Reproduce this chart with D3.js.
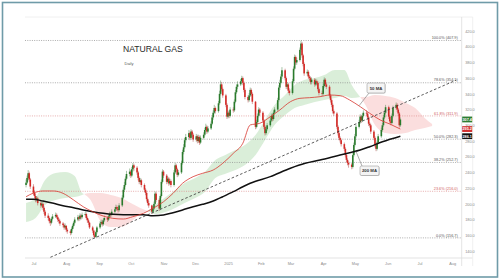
<!DOCTYPE html>
<html><head><meta charset="utf-8">
<script src="https://cdn.jsdelivr.net/npm/d3@7"></script>
<style>html,body{margin:0;padding:0;background:#fff;}svg{display:block;}</style>
</head><body><svg id="c" width="500" height="280"></svg>
<script>
// ---------- DATA ----------
const firstSession = "2024-06-24"; // daily sessions (Mon-Fri) starting here
const opens = [
224,227,233,239,231, 222,214,210,205,207, 201,198,200,195,190, 185,182,178,176,181, 184,186,183,180,178,
175,173,170,172,167, 165,163,168,172,176, 180,183,181,185,183, 186,187,182,179,176, 170,166,160,158,164,
170,175,177,174,179, 182,180,184,187,186, 190,193,196,194,192, 198,208,218,224,232, 238,241,236,244,249,
246,240,233,228,230, 224,218,214,206,201, 198,190,194,200,213, 205,194,210,228,241, 236,228,232,226,229,
224,240,249,244,237, 240,252,266,272,281, 285,290,284,292,288, 282,286,280,285,278, 284,288,294,298,292,
296,302,310,316,322, 318,328,340,352,346, 338,326,311,316,312, 320,319,330,342,349, 352,356,360,354,345,
336,332,338,345,340, 330,298,304,312,320, 316,306,298,290,295, 300,306,312,308,316, 320,332,348,354,362,
370,360,349,352,344, 341,356,372,387,380, 383,396,404,389,378, 366,368,362,360,355, 358,352,356,354,346,
341,340,350,358,352, 349,338,332,326,318, 315,298,290,284,281, 276,270,262,256,252, 250,247,262,275,286,
298,304,311,306,312, 316,315,310,302,300, 292,284,275,270,278, 286,294,300,310,316, 323,311,305,303,312,
322,326,320,315,300];
const highs = [
231,236,243,241,233, 225,217,213,210,209, 204,203,202,197,192, 188,184,180,183,187, 189,188,185,182,180,
177,175,175,173,169, 167,170,174,178,183, 186,185,188,187,189, 190,189,184,181,177, 172,167,162,166,172,
178,180,179,181,185, 184,186,190,189,193, 196,199,198,196,201, 211,221,228,235,242, 245,243,247,252,251,
248,242,235,233,232, 226,220,216,208,204, 199,197,203,216,215, 207,212,231,244,243, 238,235,234,232,231,
243,252,251,246,243, 255,269,276,284,289, 294,292,295,294,290, 289,288,288,287,287, 291,297,302,300,299,
305,313,319,326,324, 331,344,357,355,348, 340,328,319,318,323, 323,333,345,352,356, 359,363,362,356,347,
338,341,348,347,342, 331,307,315,323,322, 318,308,300,298,303, 309,315,314,319,323, 335,351,358,365,374,
372,362,355,354,347, 359,375,390,389,386, 399,407.9,406,391,380, 371,370,364,362,361, 360,359,358,356,348,
344,353,361,360,354, 351,340,334,328,320, 317,300,292,286,283, 278,272,264,258,254, 252,265,278,289,301,
307,314,313,315,319, 319,317,312,304,302, 294,286,277,281,289, 297,303,313,319,326, 325,313,307,315,325,
329,328,322,317,310];
const lows = [
221,225,230,228,219, 211,207,202,203,198, 195,196,192,187,182, 179,175,172,174,179, 182,181,177,175,172,
170,167,168,164,162, 160,161,166,170,174, 178,178,179,180,181, 184,180,176,173,168, 163,157,156.7,157,162,
168,173,171,172,177, 177,178,182,183,184, 188,191,191,189,190, 196,206,215,222,230, 235,233,234,241,242,
237,230,225,226,221, 215,211,203,198,195, 187,188,192,198,202, 191,192,208,226,233, 225,226,223,224,221,
222,238,241,234,235, 238,250,263,270,278, 282,281,282,285,279, 279,277,278,275,276, 282,286,291,289,290,
294,300,307,314,315, 316,326,338,343,335, 323,308,309,309,310, 316,317,328,340,346, 350,353,351,342,333,
329,330,336,337,327, 295,296,302,310,313, 303,295,287,288,293, 298,304,305,306,314, 318,330,345,352,359,
357,346,346,341,338, 339,354,370,377,377, 381,393,386,375,363, 363,359,357,352,352, 349,350,351,343,338,
337,338,348,349,346, 335,329,323,315,312, 295,287,281,278,273, 267,259,253,249,246, 244,245,260,273,284,
296,302,303,304,310, 312,307,299,297,289, 281,272,267,268,276, 284,292,298,308,314, 308,302,300,301,310,
320,317,312,297,298];
const closes = [
227,233,239,231,222, 214,210,205,207,201, 198,200,195,190,185, 182,178,176,181,184, 186,183,180,178,175,
173,170,172,167,165, 163,168,172,176,180, 183,181,185,183,186, 187,182,179,176,170, 166,160,158,164,170,
175,177,174,179,182, 180,184,187,186,190, 193,196,194,192,198, 208,218,224,232,238, 241,236,244,249,246,
240,233,228,230,224, 218,214,206,201,198, 190,194,200,213,205, 194,210,228,241,236, 228,232,226,229,224,
240,249,244,237,240, 252,266,272,281,285, 290,284,292,288,282, 286,280,285,278,284, 288,294,298,292,296,
302,310,316,322,318, 328,340,352,346,338, 326,311,316,312,320, 319,330,342,349,352, 356,360,354,345,336,
332,338,345,340,330, 298,304,312,320,316, 306,298,290,295,300, 306,312,308,316,320, 332,348,354,362,370,
360,349,352,344,341, 356,372,387,380,383, 396,404,389,378,366, 368,362,360,355,358, 352,356,354,346,341,
340,350,358,352,349, 338,332,326,318,315, 298,290,284,281,276, 270,262,256,252,250, 247,262,275,286,298,
304,311,306,312,316, 315,310,302,300,292, 284,275,270,278,286, 294,300,310,316,323, 311,305,303,312,322,
326,320,315,300,307.4];

const ma50Dates = ["2024-06-24","2024-07-01","2024-07-10","2024-07-20","2024-07-29","2024-08-08","2024-08-17","2024-08-26","2024-09-05","2024-09-14","2024-09-24","2024-10-03","2024-10-13","2024-10-22","2024-11-01","2024-11-10","2024-11-19","2024-11-29","2024-12-08","2024-12-18","2024-12-27","2025-01-06","2025-01-15","2025-01-22","2025-01-31","2025-02-10","2025-02-19","2025-03-01","2025-03-10","2025-03-19","2025-03-29","2025-04-07","2025-04-17","2025-04-26","2025-05-06","2025-05-15","2025-05-25","2025-06-03","2025-06-13"];
const ma50Values = [209.1,213.8,216.4,216.4,213.4,204.9,196.4,190.0,184.5,181.6,180.7,183.7,188.0,194.3,202.7,213.4,226.2,234.6,238.9,243.1,251.6,264.3,277.1,300.4,302.5,310.9,319.5,330.0,334.3,335.1,336.4,338.5,337.7,332.2,323.7,315.3,306.7,301.6,295.2];

const ma200Dates = ["2024-06-24","2024-07-01","2024-07-10","2024-07-20","2024-07-29","2024-08-08","2024-08-17","2024-08-26","2024-09-05","2024-09-14","2024-09-24","2024-10-03","2024-10-13","2024-10-22","2024-11-01","2024-11-10","2024-11-19","2024-11-29","2024-12-08","2024-12-18","2024-12-27","2025-01-06","2025-01-15","2025-01-22","2025-02-10","2025-03-01","2025-03-15","2025-03-29","2025-04-17","2025-04-26","2025-05-06","2025-05-15","2025-05-27","2025-06-13"];
const ma200Values = [205.8,205.8,203.6,200.7,197.6,195.1,192.2,190.0,188.0,186.7,186.2,186.2,186.2,184.9,185.8,188.7,192.2,196.4,199.4,203.6,209.1,215.5,221.8,226.2,234.6,245.3,251.6,255.8,262.2,265.1,268.5,272.7,279.0,286.1];

const cloudDates = ["2024-06-24","2024-07-03","2024-07-12","2024-07-22","2024-07-31","2024-08-09","2024-08-16","2024-08-18","2024-08-24","2024-09-03","2024-09-12","2024-09-22","2024-10-01","2024-10-10","2024-10-17","2024-10-24","2024-11-03","2024-11-12","2024-11-21","2024-12-01","2024-12-10","2024-12-20","2024-12-29","2025-01-08","2025-01-17","2025-01-27","2025-02-05","2025-02-14","2025-02-24","2025-03-05","2025-03-14","2025-03-24","2025-04-02","2025-04-12","2025-04-21","2025-04-28","2025-05-06","2025-05-11","2025-05-20","2025-05-30","2025-06-08","2025-06-18","2025-06-27","2025-07-06","2025-07-13"];
const spanA = [201.1,207.5,230.4,239.3,240.5,235.5,213.8,212.5,204.9,176.9,170.6,170.6,176.9,187.1,190.9,198.5,208.7,217.6,226.5,232.9,240.5,255.8,262.0,268.5,274.9,287.6,306.7,325.8,338.5,351.3,357.6,360.2,364.0,370.4,370.4,351.3,336.0,325.8,300.4,290.2,288.9,290.2,294.0,296.5,299.1];
const spanB = [176.9,182.0,198.5,204.9,207.5,208.7,211.3,212.5,213.8,213.8,211.3,207.5,201.1,194.7,190.9,187.1,189.6,194.7,201.1,207.5,215.1,232.9,238.0,243.1,249.5,262.2,281.3,300.4,313.1,322.0,325.8,329.6,332.2,334.7,337.3,334.7,336.0,336.0,338.5,337.3,334.7,328.4,322.0,309.3,301.6];

const trendDates = ["2024-07-17","2025-08-05"];
const trendValues = [132.0,357.6];

const fibLabels = ["100.0%","78.6%","61.8%","50.0%","38.2%","23.6%","0.0%"];
const fibValues = [407.9,354.1,311.9,282.3,252.7,216.0,156.7];
const fibAccent = [false,false,true,false,false,true,false];

const yTicks = [140,160,180,200,220,240,260,280,300,320,340,360,380,400,420];
const monthDates = ["2024-07-01","2024-08-01","2024-09-01","2024-10-01","2024-11-01","2024-12-01","2025-01-01","2025-02-01","2025-03-01","2025-04-01","2025-05-01","2025-06-01","2025-07-01","2025-08-01"];
const monthLabels = ["Jul","Aug","Sep","Oct","Nov","Dec","2025","Feb","Mar","Apr","May","Jun","Jul","Aug"];

const lastClose = 307.4, lastMa50 = 295.2, lastMa200 = 286.1;

// ---------- DRAW ----------
const parse = d3.utcParse("%Y-%m-%d");
const svg = d3.select("#c");
const plot = {l:25, r:461.7, t:17, b:258, outer:472.7};

svg.append("rect").attr("x",2.5).attr("y",2.5).attr("width",495).attr("height",274.5)
  .attr("fill","#fff").attr("stroke","#6f9ba8").attr("stroke-width",1.6);

const x = d3.scaleUtc().domain([parse("2024-06-23"), parse("2025-08-10")]).range([plot.l, plot.r]);
const y = d3.scaleLinear().domain([131.1, 437.8]).range([plot.b, plot.t]);

const sessions = [];
{ let d = parse(firstSession);
  while (sessions.length < closes.length) {
    const wd = d.getUTCDay();
    if (wd !== 0 && wd !== 6) sessions.push(new Date(d));
    d = d3.utcDay.offset(d, 1);
  } }

const g = svg.append("g");
g.append("line").attr("x1",plot.l).attr("x2",plot.outer).attr("y1",plot.t).attr("y2",plot.t).attr("stroke","#ececec").attr("stroke-width",0.8);
g.append("line").attr("x1",plot.l).attr("x2",plot.outer).attr("y1",plot.b).attr("y2",plot.b).attr("stroke","#dcdcdc").attr("stroke-width",0.8);
g.append("line").attr("x1",plot.r).attr("x2",plot.r).attr("y1",plot.t).attr("y2",plot.b+8).attr("stroke","#dcdcdc").attr("stroke-width",0.8);
g.append("line").attr("x1",plot.outer).attr("x2",plot.outer).attr("y1",plot.t).attr("y2",plot.b+8).attr("stroke","#ececec").attr("stroke-width",0.8);

// cloud
const cloud = cloudDates.map((d,i)=>({d:parse(d),a:spanA[i],b:spanB[i]}));
const segs = []; let cur = [];
cloud.forEach((p,i)=>{
  cur.push(p);
  if (i>0 && p.a===p.b && cur.length>1) { segs.push(cur); cur=[p]; }
});
if (cur.length>1) segs.push(cur);
const area = d3.area().x(p=>x(p.d)).y0(p=>y(p.b)).y1(p=>y(p.a)).curve(d3.curveMonotoneX);
segs.forEach(s=>{
  const up = d3.sum(s, p=>p.a-p.b) > 0;
  g.append("path").attr("d",area(s)).attr("fill", up ? "#d6ecd5" : "#fbdada").attr("opacity",0.9);
});

// fib lines
fibValues.forEach((v,i)=>{
  const col = fibAccent[i] ? "#dc8a8a" : "#8a8a8a";
  g.append("line").attr("x1",plot.l).attr("x2",plot.r).attr("y1",y(v)).attr("y2",y(v))
    .attr("stroke",col).attr("stroke-width",0.7).attr("stroke-dasharray","1,1.3");
  g.append("text").attr("x",plot.r-4).attr("y",y(v)-1.3).attr("text-anchor","end")
    .attr("font-family","Liberation Sans, Arial, sans-serif").attr("font-size",3.8)
    .attr("fill", fibAccent[i] ? "#d06060" : "#555").text(`${fibLabels[i]} (${v.toFixed(1)})`);
});

// candles
const cg = g.append("g");
sessions.forEach((d,i)=>{
  const o=opens[i], c=closes[i], up=c>=o;
  const col = up ? "#2a7a2c" : "#d42a26";
  const cx = x(d);
  cg.append("line").attr("x1",cx).attr("x2",cx).attr("y1",y(highs[i])).attr("y2",y(lows[i]))
    .attr("stroke", up ? "#4f8a50" : "#b04040").attr("stroke-width",0.5);
  const y0=y(Math.max(o,c)), y1=y(Math.min(o,c));
  cg.append("rect").attr("x",cx-0.8).attr("y",y0).attr("width",1.6).attr("height",Math.max(0.6,y1-y0))
    .attr("fill",col);
});

// moving averages
const line = d3.line().x(p=>x(p[0])).y(p=>y(p[1])).curve(d3.curveMonotoneX);
g.append("path").attr("d",line(ma200Dates.map((d,i)=>[parse(d),ma200Values[i]])))
  .attr("fill","none").attr("stroke","#111").attr("stroke-width",1.5);
g.append("path").attr("d",line(ma50Dates.map((d,i)=>[parse(d),ma50Values[i]])))
  .attr("fill","none").attr("stroke","#d8362e").attr("stroke-width",0.8);

// trend line
const tx = trendDates.map(parse);
g.append("line").attr("x1",x(tx[0])).attr("y1",y(trendValues[0])).attr("x2",x(tx[1])).attr("y2",y(trendValues[1]))
  .attr("stroke","#333").attr("stroke-width",0.8).attr("stroke-dasharray","2.6,2");

// callouts
function callout(label, d, v, bx, by, bw, bh, ax, ay){
  const px=x(parse(d)), py=y(v);
  g.append("line").attr("x1",px).attr("y1",py).attr("x2",bx+ax).attr("y2",by+ay).attr("stroke","#777").attr("stroke-width",0.6);
  g.append("rect").attr("x",bx+0.6).attr("y",by+0.6).attr("width",bw).attr("height",bh).attr("rx",1.5).attr("fill","#cfcfcf");
  g.append("rect").attr("x",bx).attr("y",by).attr("width",bw).attr("height",bh).attr("rx",1.5)
    .attr("fill","#f4f4f4").attr("stroke","#888").attr("stroke-width",0.5);
  g.append("text").attr("x",bx+bw/2).attr("y",by+bh/2+1.5).attr("text-anchor","middle")
    .attr("font-family","Liberation Sans, Arial, sans-serif").attr("font-size",4.3).attr("font-weight","bold")
    .attr("fill","#333").text(label);
}
callout("50 MA","2025-05-05",325.0, 367, 83, 18, 10, 2, 10);
callout("200 MA","2025-05-02",267.0, 360, 166, 19, 9.5, 2, 0);

// y axis
const ya = d3.axisRight(y).tickValues(yTicks).tickSize(0).tickPadding(3.5).tickFormat(d3.format(".1f"));
const yg = svg.append("g").attr("transform",`translate(${plot.r},0)`).call(ya);
yg.select(".domain").remove();
yg.selectAll("text").attr("font-family","Liberation Sans, Arial, sans-serif").attr("font-size",3.8).attr("fill","#8a8a8a");

// x axis
const xa = d3.axisBottom(x).tickValues(monthDates.map(parse)).tickSize(0).tickPadding(4)
  .tickFormat((d,i)=>monthLabels[i]);
const xg = svg.append("g").attr("transform",`translate(0,${plot.b})`).call(xa);
xg.select(".domain").remove();
xg.selectAll("text").attr("font-family","Liberation Sans, Arial, sans-serif").attr("font-size",3.8).attr("fill","#8a8a8a");

// price tags
function tag(v, bg){
  svg.append("rect").attr("x",plot.r+0.5).attr("y",y(v)-2.9).attr("width",10).attr("height",5.8).attr("fill",bg);
  svg.append("text").attr("x",plot.r+5.5).attr("y",y(v)+1.4).attr("text-anchor","middle")
    .attr("font-family","Liberation Sans, Arial, sans-serif").attr("font-size",3.8).attr("font-weight","bold")
    .attr("fill","#fff").text(v.toFixed(1));
}
tag(lastClose,"#2e7d32");
tag(lastMa50,"#d32f2f");
tag(lastMa200,"#111");

// titles
svg.append("text").attr("x",123).attr("y",52).attr("font-family","Liberation Sans Narrow, Arial Narrow, sans-serif")
  .attr("font-size",8.6).attr("fill","#2a2a2a").text("NATURAL GAS");
svg.append("text").attr("x",124.5).attr("y",65).attr("font-family","Liberation Sans, Arial, sans-serif")
  .attr("font-size",4).attr("fill","#555").text("Daily");
</script></body></html>
